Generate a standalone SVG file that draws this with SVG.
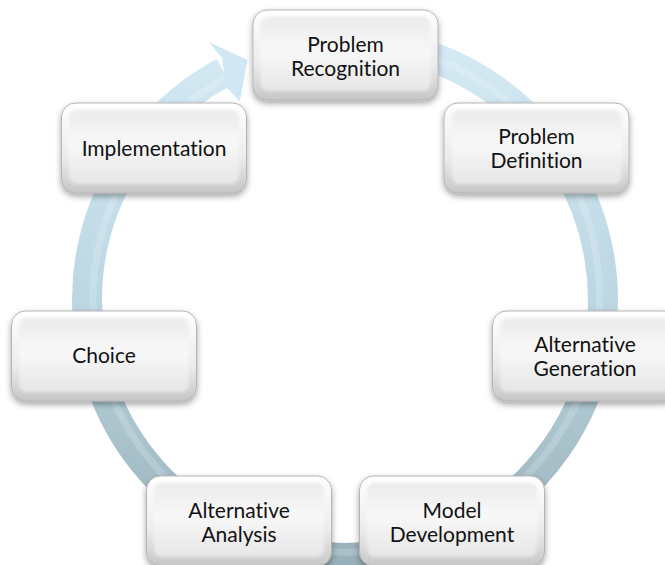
<svg xmlns="http://www.w3.org/2000/svg" width="665" height="565" viewBox="0 0 665 565">
<defs>
  <linearGradient id="ringGrad" gradientUnits="userSpaceOnUse" x1="0" y1="30" x2="0" y2="570">
    <stop offset="0" stop-color="#d5ebf6"/>
    <stop offset="0.5" stop-color="#bcd7e2"/>
    <stop offset="1" stop-color="#97afb8"/>
  </linearGradient>
  <linearGradient id="boxOuter" x1="0" y1="0" x2="0" y2="1">
    <stop offset="0" stop-color="#ffffff"/>
    <stop offset="0.6" stop-color="#ececec"/>
    <stop offset="1" stop-color="#c6c6c6"/>
  </linearGradient>
  <linearGradient id="boxFace" x1="0" y1="0" x2="0" y2="1">
    <stop offset="0" stop-color="#ebebeb"/>
    <stop offset="0.45" stop-color="#f8f8f8"/>
    <stop offset="1" stop-color="#e6e6e6"/>
  </linearGradient>
  <filter id="shadow" x="-10%" y="-10%" width="120%" height="130%">
    <feDropShadow dx="0" dy="3" stdDeviation="3" flood-color="#000" flood-opacity="0.35"/>
  </filter>
  <filter id="soft" x="-10%" y="-10%" width="120%" height="120%">
    <feGaussianBlur stdDeviation="1.8"/>
  </filter>
  <g id="box">
    <rect x="-92.5" y="-45" width="185" height="90" rx="14" fill="url(#boxOuter)" stroke="#b5b5b5" stroke-width="1" filter="url(#shadow)"/>
    <rect x="-85" y="-38" width="170" height="74" rx="8" fill="url(#boxFace)" filter="url(#soft)"/>
  </g>
</defs>
<style>
  text { font-family: Lato, "Open Sans", "Liberation Sans", sans-serif; font-size: 21px; fill: #111111; text-anchor: middle; font-variant-ligatures: none; font-feature-settings: "liga" 0; }
</style>

<g id="connectors">
  <path d="M 300.2 45.9 A 258 258 0 0 1 389.8 554.1 A 258 258 0 0 1 223.9 72.2" fill="none" stroke="url(#ringGrad)" stroke-width="30"/>
  <path d="M 300.2 45.9 A 252 252 0 0 1 389.0 548.2 A 252 252 0 0 1 226.7 77.5" fill="none" stroke="#ffffff" stroke-opacity="0.18" stroke-width="7"/>
  <polygon points="208.8,42.0 247.5,60.1 239.9,101.5 225.6,86.4 222.1,58.0" fill="#d1e8f4"/>
</g>

<g id="node-problem-recognition" transform="translate(345.5,55)">
  <use href="#box"/>
  <text x="0" y="-3">Problem</text>
  <text x="0" y="21">Recognition</text>
</g>
<g id="node-problem-definition" transform="translate(536.5,148)">
  <use href="#box"/>
  <text x="0" y="-4">Problem</text>
  <text x="0" y="20">Definition</text>
</g>
<g id="node-alternative-generation" transform="translate(585,356)">
  <use href="#box"/>
  <text x="0" y="-4">Alternative</text>
  <text x="0" y="20">Generation</text>
</g>
<g id="node-model-development" transform="translate(452,521)">
  <use href="#box"/>
  <text x="0" y="-3">Model</text>
  <text x="0" y="21">Development</text>
</g>
<g id="node-alternative-analysis" transform="translate(239,521)">
  <use href="#box"/>
  <text x="0" y="-3">Alternative</text>
  <text x="0" y="21">Analysis</text>
</g>
<g id="node-choice" transform="translate(104,356)">
  <use href="#box"/>
  <text x="0" y="7">Choice</text>
</g>
<g id="node-implementation" transform="translate(154,148)">
  <use href="#box"/>
  <text x="0" y="8">Implementation</text>
</g>
</svg>
